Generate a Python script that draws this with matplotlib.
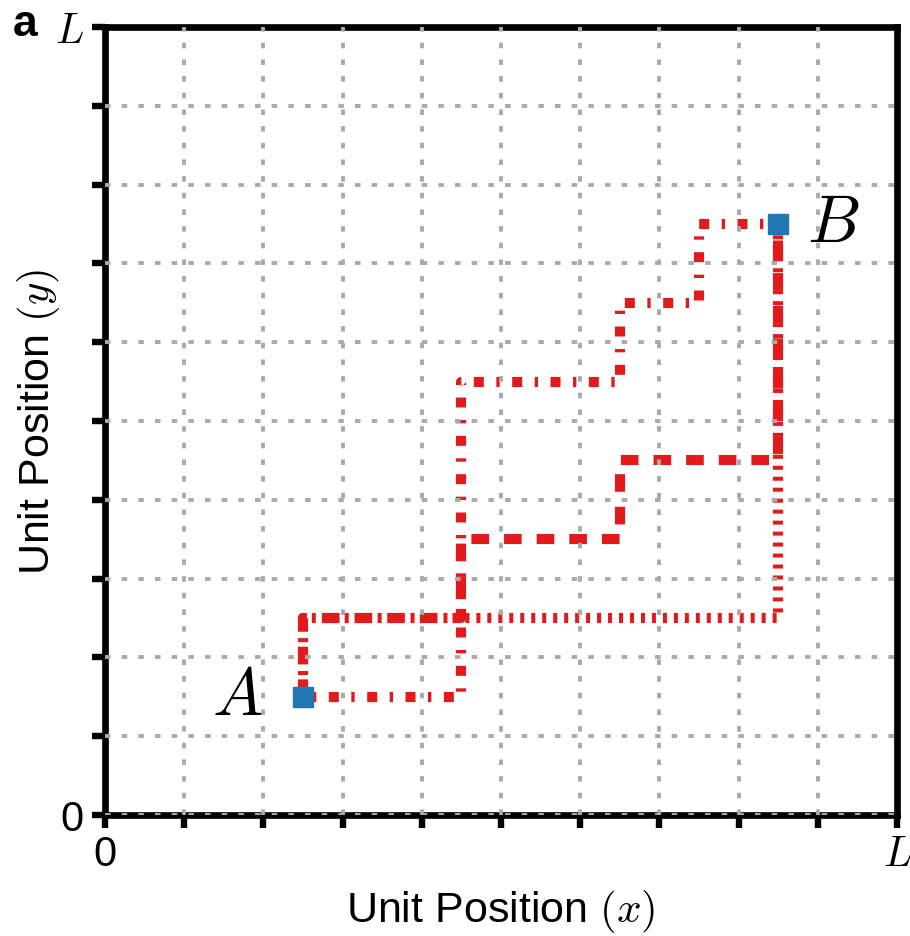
import matplotlib
matplotlib.use("Agg")
import matplotlib.pyplot as plt

plt.rcParams['font.family'] = ['Liberation Sans', 'DejaVu Sans']
plt.rcParams['mathtext.fontset'] = 'cm'
plt.rcParams['lines.scale_dashes'] = False

# ---- data ----
ticks = list(range(11))
xtick_labels = ['0'] + [''] * 9 + ['$L$']
ytick_labels = ['0'] + [''] * 9 + ['$L$']

path_dotted_x = [2.5, 2.5, 8.5, 8.5]
path_dotted_y = [1.5, 2.5, 2.5, 7.5]
path_dashed_x = [2.5, 2.5, 4.5, 4.5, 6.5, 6.5, 8.5, 8.5]
path_dashed_y = [1.5, 2.5, 2.5, 3.5, 3.5, 4.5, 4.5, 7.5]
path_dashdot_x = [2.5, 4.5, 4.5, 6.5, 6.5, 7.5, 7.5, 8.5]
path_dashdot_y = [1.5, 1.5, 5.5, 5.5, 6.5, 6.5, 7.5, 7.5]

point_names = ['$A$', '$B$']
point_x = [2.5, 8.5]
point_y = [1.5, 7.5]

RED = '#e31a1c'
BLUE = '#1f77b4'

fig = plt.figure(figsize=(9.10, 9.37), dpi=100)
ax = fig.add_axes([105 / 910, 1 - 816 / 937, 792 / 910, 788 / 937])

lw = 7.3
ax.plot(path_dotted_x, path_dotted_y, color=RED, lw=lw,
        linestyle=(0, (2.9, 5.0)), zorder=2)
ax.plot(path_dashed_x, path_dashed_y, color=RED, lw=lw,
        linestyle=(0, (12.7, 10.8)), zorder=2)
ax.plot(path_dashdot_x, path_dashdot_y, color=RED, lw=lw,
        linestyle=(9, (7.2, 9.0, 2.4, 9.0)), zorder=2)

ax.plot(point_x, point_y, linestyle='none', marker='s', ms=14,
        color=BLUE, zorder=4)

offsets = [(-29, 0), (21, 0)]
has = ['right', 'left']
for name, x, y, off, ha in zip(point_names, point_x, point_y, offsets, has):
    ax.annotate(name, (x, y), xytext=off, textcoords='offset points',
                ha=ha, va='center', fontsize=48, zorder=5)

ax.set_xlim(0, 10)
ax.set_ylim(0, 10)
ax.set_xticks(ticks)
ax.set_yticks(ticks)
ax.set_xticklabels(xtick_labels)
ax.set_yticklabels(ytick_labels)
ax.tick_params(direction='out', length=9.4, width=4.6, labelsize=30,
               top=False, right=False, pad=4)
ax.tick_params(axis='y', pad=6)

for s in ax.spines.values():
    s.set_linewidth(4.8)
    s.set_color('black')

ax.grid(True, color='#aaaaaa', lw=2.8, linestyle=(0, (4.0, 8.0)))
ax.set_axisbelow(False)
xg = ax.xaxis.get_gridlines()
yg = ax.yaxis.get_gridlines()
xg[0].set_visible(False)
xg[-1].set_visible(False)
yg[-1].set_visible(False)

ax.set_xlabel('Unit Position $(x)$', fontsize=31)
ax.set_ylabel('Unit Position $(y)$', fontsize=31)
ax.xaxis.set_label_coords(0.5, (816 - 888) / 788)
ax.yaxis.set_label_coords((62 - 105) / 792, 0.5)

fig.text(13 / 910, 1 - 36 / 937, 'a', fontsize=32, fontweight='bold',
         ha='left', va='baseline')

fig.savefig('out.png', dpi=100)
